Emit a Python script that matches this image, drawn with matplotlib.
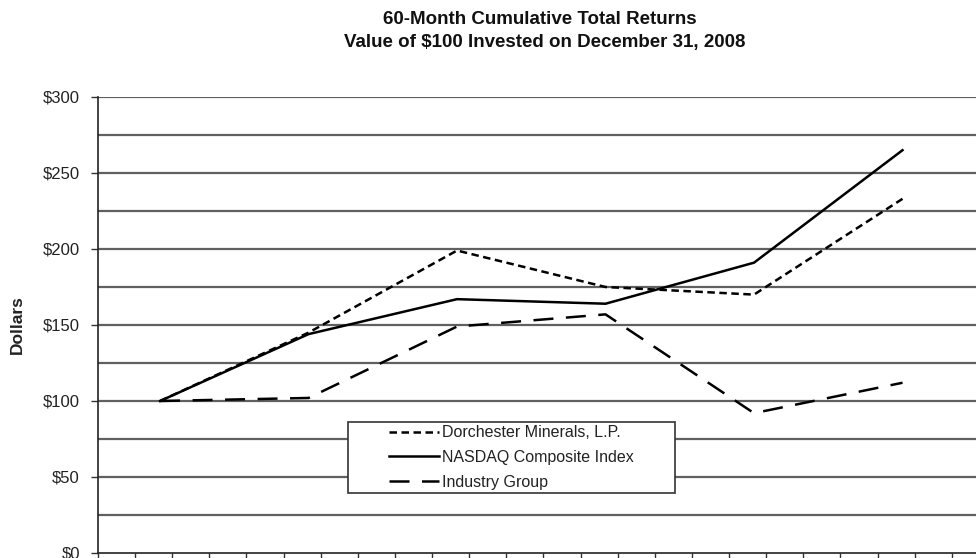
import numpy as np
import matplotlib.pyplot as plt
from matplotlib.patches import Rectangle

years = ['2008', '2009', '2010', '2011', '2012', '2013']
dorchester = [100, 145, 199, 175, 170, 233]
nasdaq = [100, 144, 167, 164, 191, 265]
industry = [100, 102, 149, 157, 92, 112]

x = np.arange(len(years))

plt.rcParams['font.family'] = ['Liberation Sans', 'DejaVu Sans']

W, H = 976, 558
fig = plt.figure(figsize=(W / 100, H / 100), dpi=100)
ax = fig.add_axes([98 / W, 5 / H, 1 - 98 / W, 456 / H])

# gridlines every $25
for g in np.arange(25, 301, 25):
    ax.axhline(g, color='#606060', linewidth=1.6, zorder=1)

ax.plot(x, dorchester, color='black', linewidth=1.8, linestyle=(0, (3, 1.8)),
        label='Dorchester Minerals, L.P.', zorder=3)
ax.plot(x, nasdaq, color='black', linewidth=1.8, linestyle='-',
        label='NASDAQ Composite Index', zorder=3)
ax.plot(x, industry, color='black', linewidth=1.8, linestyle=(0, (8, 5)),
        label='Industry Group', zorder=3)

x_left = -0.418
ax.set_xlim(x_left, 5.495)
ax.set_ylim(0, 300)
ax.set_xticks(np.arange(x_left, 5.5, 0.25))
ax.set_xticklabels([])
ax.tick_params(axis='x', length=5, width=1, color='#333333')

ax.set_yticks(np.arange(0, 301, 50))
ax.set_yticklabels([f'${v}' for v in range(0, 301, 50)], fontsize=12, color='#222222')
ax.tick_params(axis='y', length=5, width=1, color='#333333', pad=8)
ax.set_ylabel('Dollars', fontsize=12.5, fontweight='bold', labelpad=13, color='#222222')

for s in ['top', 'right']:
    ax.spines[s].set_visible(False)
for s in ['left', 'bottom']:
    ax.spines[s].set_color('#222222')
    ax.spines[s].set_linewidth(1.2)

# legend box drawn separately, legend content centred in it
bx0, by0, bx1, by1 = 348, 422, 675, 493
box = Rectangle(((bx0 - 98) / 878, (553 - by1) / 456), (bx1 - bx0) / 878, (by1 - by0) / 456,
                transform=ax.transAxes, facecolor='white', edgecolor='#333333',
                linewidth=1.2, zorder=4)
ax.add_patch(box)
leg = ax.legend(loc='center', bbox_to_anchor=(((bx0 + bx1) / 2 - 98) / 878, (553 - (by0 + by1) / 2) / 456),
                frameon=False, fontsize=11.5, handlelength=3.1, handletextpad=0.2,
                borderpad=0, labelspacing=0.6)
leg.set_zorder(5)
for t in leg.get_texts():
    t.set_color('#222222')

fig.text(0.553, 1 - 19 / H, '60-Month Cumulative Total Returns',
         ha='center', va='center', fontsize=13.5, fontweight='bold', color='#111111')
fig.text(0.558, 1 - 42 / H, 'Value of $100 Invested on December 31, 2008',
         ha='center', va='center', fontsize=13.5, fontweight='bold', color='#111111')

fig.savefig('out.png', dpi=100)
